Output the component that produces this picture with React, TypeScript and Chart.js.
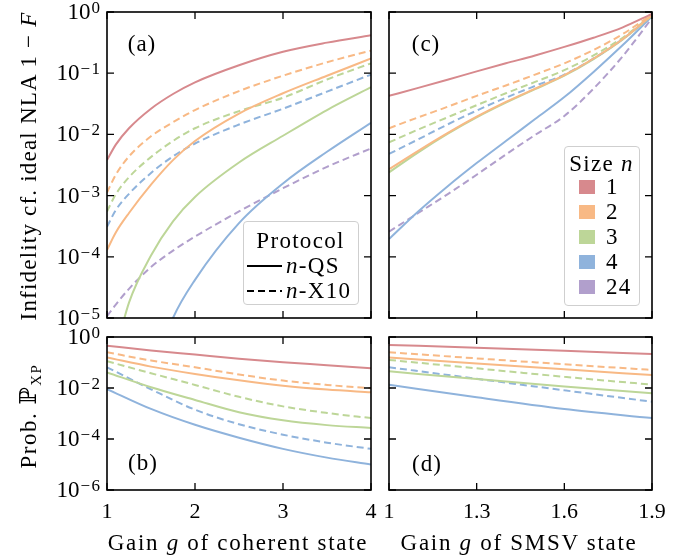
import React, { useEffect, useRef } from "react";
import { Chart, registerables } from "chart.js";

Chart.register(...registerables);

const W = 689;
const H = 556;
const SERIF = '"Liberation Serif", "DejaVu Serif", serif';

// ---------- x values (gain g) ----------
const coherentGain = [1, 1.1, 1.25, 1.5, 1.75, 2, 2.5, 3, 3.5, 4];
const smsvGain = [1, 1.1, 1.2, 1.3, 1.4, 1.5, 1.6, 1.7, 1.8, 1.9];
const coherentGainProb = [1, 1.5, 2, 2.5, 3, 3.5, 4];
const smsvGainProb = [1, 1.3, 1.6, 1.9];

// ---------- tick values / labels ----------
const coherentTicks = [1, 2, 3, 4];
const coherentTickLabels = ["1", "2", "3", "4"];
const smsvTicks = [1, 1.3, 1.6, 1.9];
const smsvTickLabels = ["1", "1.3", "1.6", "1.9"];
const infidelityTicks = [1e-5, 1e-4, 1e-3, 1e-2, 1e-1, 1];
const infidelityTickExponents = ["\u22125", "\u22124", "\u22123", "\u22122", "\u22121", "0"];
const probTicks = [1e-6, 1e-4, 1e-2, 1];
const probTickExponents = ["\u22126", "\u22124", "\u22122", "0"];

// ---------- (a) infidelity, coherent state ----------
const infCohQS_n1 = [3.8e-3, 6.8e-3, 1.26e-2, 2.63e-2, 4.57e-2, 7.1e-2, 0.135, 0.224, 0.316, 0.417];
const infCohQS_n2 = [1.29e-4, 2.5e-4, 5.2e-4, 1.51e-3, 3.8e-3, 7.8e-3, 2.19e-2, 4.7e-2, 9.1e-2, 0.174];
const infCohQS_n3 = [6.3e-7, 2.8e-6, 1.78e-5, 1.05e-4, 3.8e-4, 9.5e-4, 3.47e-3, 9.5e-3, 2.5e-2, 5.9e-2];
const infCohQS_n4 = [1e-9, 6.3e-9, 6.3e-8, 1e-6, 1e-5, 4.2e-5, 3.55e-4, 1.58e-3, 5.2e-3, 1.55e-2];
const infCohX10_n2 = [1.12e-3, 2.19e-3, 4.37e-3, 9.3e-3, 1.58e-2, 2.5e-2, 5.1e-2, 9.1e-2, 0.151, 0.234];
const infCohX10_n3 = [5.5e-4, 1.05e-3, 2.0e-3, 4.27e-3, 7.8e-3, 1.26e-2, 2.4e-2, 3.98e-2, 7.9e-2, 0.145];
const infCohX10_n4 = [3.1e-4, 5.8e-4, 1.07e-3, 2.34e-3, 4.37e-3, 7.1e-3, 1.45e-2, 2.63e-2, 5.0e-2, 9.5e-2];
const infCohX10_n24 = [1.07e-5, 1.66e-5, 3.0e-5, 6.8e-5, 1.26e-4, 2.14e-4, 5.5e-4, 1.32e-3, 2.95e-3, 5.9e-3];

// ---------- (c) infidelity, SMSV state ----------
const infSmsvQS_n1 = [4.27e-2, 5.75e-2, 7.8e-2, 0.107, 0.145, 0.195, 0.269, 0.38, 0.562, 0.933];
const infSmsvQS_n2 = [2.7e-3, 5.4e-3, 1.05e-2, 1.95e-2, 3.4e-2, 5.6e-2, 9.3e-2, 0.174, 0.363, 0.89];
const infSmsvQS_n3 = [2.4e-3, 5.1e-3, 1.02e-2, 1.9e-2, 3.3e-2, 5.5e-2, 9.1e-2, 0.17, 0.355, 0.87];
const infSmsvQS_n4 = [1.95e-4, 5.5e-4, 1.41e-3, 3.4e-3, 7.8e-3, 1.78e-2, 4.07e-2, 0.105, 0.288, 0.85];
const infSmsvX10_n2 = [1.26e-2, 1.9e-2, 2.82e-2, 4.27e-2, 6.3e-2, 9.5e-2, 0.145, 0.24, 0.437, 0.912];
const infSmsvX10_n3 = [7.4e-3, 1.2e-2, 1.9e-2, 3.0e-2, 4.7e-2, 7.2e-2, 0.112, 0.195, 0.38, 0.89];
const infSmsvX10_n4 = [4.8e-3, 8.3e-3, 1.45e-2, 2.45e-2, 3.98e-2, 6.2e-2, 9.5e-2, 0.174, 0.363, 0.87];
const infSmsvX10_n24 = [2.57e-4, 5.2e-4, 1.05e-3, 2.19e-3, 4.7e-3, 9.8e-3, 2.0e-2, 5.6e-2, 0.19, 0.794];

// ---------- (b) probability, coherent state ----------
const probCohQS_n1 = [0.457, 0.295, 0.204, 0.141, 0.102, 7.8e-2, 5.9e-2];
const probCohQS_n2 = [0.158, 6.9e-2, 3.55e-2, 2.0e-2, 1.23e-2, 8.7e-3, 6.8e-3];
const probCohQS_n3 = [4.1e-2, 1.07e-2, 3.4e-3, 1.12e-3, 5.4e-4, 3.5e-4, 2.7e-4];
const probCohQS_n4 = [9.1e-3, 1.51e-3, 3.6e-4, 1.12e-4, 4.1e-5, 1.86e-5, 1.0e-5];
const probCohX10_n2 = [0.251, 0.12, 6.5e-2, 3.4e-2, 1.95e-2, 1.32e-2, 9.8e-3];
const probCohX10_n3 = [0.112, 3.8e-2, 1.32e-2, 4.5e-3, 1.9e-3, 1.05e-3, 6.6e-4];
const probCohX10_n4 = [6.5e-2, 8.9e-3, 1.41e-3, 3.8e-4, 1.48e-4, 7.2e-5, 4.1e-5];

// ---------- (d) probability, SMSV state ----------
const probSmsvQS_n1 = [0.49, 0.38, 0.288, 0.214];
const probSmsvQS_n2 = [0.158, 9.1e-2, 5.4e-2, 3.2e-2];
const probSmsvQS_n3 = [4.5e-2, 2.24e-2, 1.15e-2, 6.2e-3];
const probSmsvQS_n4 = [1.35e-2, 4.3e-3, 1.5e-3, 6.6e-4];
const probSmsvX10_n2 = [0.251, 0.145, 8.5e-2, 5.1e-2];
const probSmsvX10_n3 = [0.126, 5.9e-2, 2.75e-2, 1.35e-2];
const probSmsvX10_n4 = [6.5e-2, 2.3e-2, 8.1e-3, 2.9e-3];

// ---------- legend ----------
const sizeLabels = ["1", "2", "3", "4", "24"];

// styles
const C1 = "#d7898d";
const C2 = "#f8b985";
const C3 = "#bdd698";
const C4 = "#8fb3dc";
const C24 = "#b19fcc";
const sizeColors = [C1, C2, C3, C4, C24];

type Series = { x: number[]; y: number[]; color: string; dashed: boolean };
type Area = { left: number; top: number; right: number; bottom: number };

const XAXIS_H = 40;

const framePlugin = {
  id: "frame",
  afterDatasetsDraw(chart: any, _args: any, opts: any) {
    const { ctx, chartArea } = chart;
    const { left, top, right, bottom } = chartArea;
    const xs = chart.scales.x;
    const ys = chart.scales.y;
    ctx.save();
    ctx.strokeStyle = "#000";
    ctx.lineWidth = 1.3;
    const L = 7;
    ctx.beginPath();
    for (const t of xs.ticks) {
      const px = xs.getPixelForValue(t.value);
      ctx.moveTo(px, bottom);
      ctx.lineTo(px, bottom - L);
      ctx.moveTo(px, top);
      ctx.lineTo(px, top + L);
    }
    for (const t of ys.ticks) {
      const py = ys.getPixelForValue(t.value);
      ctx.moveTo(left, py);
      ctx.lineTo(left + L, py);
      ctx.moveTo(right, py);
      ctx.lineTo(right - L, py);
    }
    ctx.stroke();
    ctx.lineWidth = 1.6;
    ctx.strokeRect(left, top, right - left, bottom - top);
    if (opts && opts.showYLabels) {
      ctx.fillStyle = "#000";
      ctx.textAlign = "right";
      ctx.textBaseline = "alphabetic";
      const vals: number[] = opts.ticks;
      const exps: string[] = opts.exps;
      vals.forEach((v, i) => {
        const py = ys.getPixelForValue(v);
        let xr = left - 7;
        const e = exps[i];
        ctx.font = `17px ${SERIF}`;
        const digits = e.replace("\u2212", "");
        ctx.fillText(digits, xr, py + 1);
        xr -= ctx.measureText(digits).width;
        if (e.startsWith("\u2212")) {
          xr -= 1.5;
          ctx.fillText("\u2212", xr, py + 1);
          xr -= ctx.measureText("\u2212").width;
        }
        ctx.font = `23px ${SERIF}`;
        ctx.fillText("10", xr - 1, py + 7);
      });
    }
    ctx.restore();
  },
};

function Panel(props: {
  area: Area;
  xMin: number;
  xMax: number;
  xTicks: number[];
  xLabels: string[];
  showXLabels: boolean;
  yMin: number;
  yMax: number;
  yTicks: number[];
  yExps: string[];
  showYLabels: boolean;
  series: Series[];
}) {
  const ref = useRef<HTMLCanvasElement>(null);
  useEffect(() => {
    const p = props;
    const xh = p.showXLabels ? XAXIS_H : 0;
    const chart = new Chart(ref.current as HTMLCanvasElement, {
      type: "line",
      data: {
        datasets: p.series.map((s) => ({
          data: s.x.map((x, i) => ({ x, y: s.y[i] })),
          borderColor: s.color,
          borderWidth: 2,
          borderDash: s.dashed ? [7, 4] : [],
          borderCapStyle: "butt",
          pointRadius: 0,
          cubicInterpolationMode: "monotone",
          fill: false,
        })),
      },
      options: {
        responsive: false,
        animation: false,
        events: [],
        layout: {
          padding: {
            left: p.area.left,
            top: p.area.top,
            right: W - p.area.right,
            bottom: H - p.area.bottom - xh,
          },
        },
        plugins: {
          legend: { display: false },
          tooltip: { enabled: false },
          frame: { showYLabels: p.showYLabels, ticks: p.yTicks, exps: p.yExps },
        } as any,
        scales: {
          x: {
            type: "linear",
            min: p.xMin,
            max: p.xMax,
            afterBuildTicks: (s: any) => {
              s.ticks = p.xTicks.map((v) => ({ value: v }));
            },
            afterFit: (s: any) => {
              s.height = xh;
            },
            grid: { display: false, drawTicks: false },
            border: { display: false },
            ticks: {
              display: p.showXLabels,
              autoSkip: false,
              maxRotation: 0,
              padding: 9,
              color: "#000",
              font: { family: SERIF, size: 22 },
              callback: (_v: any, i: number) => p.xLabels[i],
            },
          },
          y: {
            type: "logarithmic",
            min: p.yMin,
            max: p.yMax,
            afterBuildTicks: (s: any) => {
              s.ticks = p.yTicks.map((v) => ({ value: v }));
            },
            afterFit: (s: any) => {
              s.width = 0;
            },
            grid: { display: false, drawTicks: false },
            border: { display: false },
            ticks: { display: false },
          },
        },
      } as any,
      plugins: [framePlugin as any],
    });
    return () => chart.destroy();
  }, []);
  return (
    <canvas
      ref={ref}
      width={W}
      height={H}
      style={{ position: "absolute", left: 0, top: 0, width: W, height: H }}
    />
  );
}

const s = (x: number[], y: number[], color: string, dashed: boolean): Series => ({ x, y, color, dashed });

const seriesA: Series[] = [
  s(coherentGain, infCohQS_n1, C1, false),
  s(coherentGain, infCohX10_n2, C2, true),
  s(coherentGain, infCohQS_n2, C2, false),
  s(coherentGain, infCohX10_n3, C3, true),
  s(coherentGain, infCohQS_n3, C3, false),
  s(coherentGain, infCohX10_n4, C4, true),
  s(coherentGain, infCohQS_n4, C4, false),
  s(coherentGain, infCohX10_n24, C24, true),
];
const seriesC: Series[] = [
  s(smsvGain, infSmsvQS_n1, C1, false),
  s(smsvGain, infSmsvX10_n2, C2, true),
  s(smsvGain, infSmsvQS_n2, C2, false),
  s(smsvGain, infSmsvX10_n3, C3, true),
  s(smsvGain, infSmsvX10_n4, C4, true),
  s(smsvGain, infSmsvQS_n3, C3, false),
  s(smsvGain, infSmsvQS_n4, C4, false),
  s(smsvGain, infSmsvX10_n24, C24, true),
];
const seriesB: Series[] = [
  s(coherentGainProb, probCohQS_n1, C1, false),
  s(coherentGainProb, probCohX10_n2, C2, true),
  s(coherentGainProb, probCohQS_n2, C2, false),
  s(coherentGainProb, probCohX10_n3, C3, true),
  s(coherentGainProb, probCohQS_n3, C3, false),
  s(coherentGainProb, probCohX10_n4, C4, true),
  s(coherentGainProb, probCohQS_n4, C4, false),
];
const seriesD: Series[] = [
  s(smsvGainProb, probSmsvQS_n1, C1, false),
  s(smsvGainProb, probSmsvX10_n2, C2, true),
  s(smsvGainProb, probSmsvQS_n2, C2, false),
  s(smsvGainProb, probSmsvX10_n3, C3, true),
  s(smsvGainProb, probSmsvQS_n3, C3, false),
  s(smsvGainProb, probSmsvX10_n4, C4, true),
  s(smsvGainProb, probSmsvQS_n4, C4, false),
];

function Txt(props: { x: number; y: number; size?: number; rotate?: boolean; ls?: number; children: any }) {
  const { x, y, size = 23, rotate = false, ls = 0, children } = props;
  return (
    <div
      style={{
        position: "absolute",
        left: x,
        top: y,
        transform: `translate(-50%, -50%)${rotate ? " rotate(-90deg)" : ""}`,
        fontSize: size,
        lineHeight: 1,
        whiteSpace: "nowrap",
        letterSpacing: ls,
      }}
    >
      {children}
    </div>
  );
}

const legendText = { position: "absolute" as const, fontSize: 23, lineHeight: "24px", whiteSpace: "nowrap" as const, letterSpacing: 1.3 };

export default function App() {
  return (
    <div
      style={{
        position: "fixed",
        left: 0,
        top: 0,
        width: W,
        height: H,
        background: "#fff",
        overflow: "hidden",
        fontFamily: SERIF,
        color: "#000",
      }}
    >
      <Panel
        area={{ left: 107, top: 12, right: 371, bottom: 318 }}
        xMin={1} xMax={4} xTicks={coherentTicks} xLabels={coherentTickLabels} showXLabels={false}
        yMin={1e-5} yMax={1} yTicks={infidelityTicks} yExps={infidelityTickExponents} showYLabels={true}
        series={seriesA}
      />
      <Panel
        area={{ left: 389, top: 12, right: 652, bottom: 318 }}
        xMin={1} xMax={1.9} xTicks={smsvTicks} xLabels={smsvTickLabels} showXLabels={false}
        yMin={1e-5} yMax={1} yTicks={infidelityTicks} yExps={infidelityTickExponents} showYLabels={false}
        series={seriesC}
      />
      <Panel
        area={{ left: 107, top: 337, right: 371, bottom: 490 }}
        xMin={1} xMax={4} xTicks={coherentTicks} xLabels={coherentTickLabels} showXLabels={true}
        yMin={1e-6} yMax={1} yTicks={probTicks} yExps={probTickExponents} showYLabels={true}
        series={seriesB}
      />
      <Panel
        area={{ left: 389, top: 337, right: 652, bottom: 490 }}
        xMin={1} xMax={1.9} xTicks={smsvTicks} xLabels={smsvTickLabels} showXLabels={true}
        yMin={1e-6} yMax={1} yTicks={probTicks} yExps={probTickExponents} showYLabels={false}
        series={seriesD}
      />

      {/* panel labels */}
      <Txt x={142} y={43} ls={1}>(a)</Txt>
      <Txt x={143} y={462} ls={1}>(b)</Txt>
      <Txt x={426} y={43} ls={1}>(c)</Txt>
      <Txt x={427} y={463} ls={1}>(d)</Txt>

      {/* axis titles */}
      <Txt x={28} y={166} rotate ls={1.2}>
        Infidelity cf. ideal NLA 1 {"\u2212"} <i>F</i>
      </Txt>
      <Txt x={28} y={416} rotate ls={1.5}>
        Prob. {"\u2119"}
        <span style={{ fontSize: 15, position: "relative", top: 5 }}>XP</span>
      </Txt>
      <Txt x={238} y={542} ls={1.7}>
        Gain <i>g</i> of coherent state
      </Txt>
      <Txt x={519} y={542} ls={1.7}>
        Gain <i>g</i> of SMSV state
      </Txt>

      {/* Protocol legend */}
      <div
        style={{
          position: "absolute",
          left: 243,
          top: 221,
          width: 116,
          height: 84,
          boxSizing: "border-box",
          border: "1.5px solid #cfcfcf",
          borderRadius: 4,
          background: "rgba(255,255,255,0.8)",
        }}
      >
        <div style={{ ...legendText, left: 0, width: 113, top: 7, textAlign: "center" }}>Protocol</div>
        <svg width={40} height={60} style={{ position: "absolute", left: 3, top: 20 }}>
          <line x1={0} y1={24} x2={35} y2={24} stroke="#000" strokeWidth={2} />
          <line x1={0} y1={49} x2={35} y2={49} stroke="#000" strokeWidth={2} strokeDasharray="7 4" />
        </svg>
        <div style={{ ...legendText, left: 42, top: 32 }}>
          <i>n</i>-QS
        </div>
        <div style={{ ...legendText, left: 42, top: 57 }}>
          <i>n</i>-X10
        </div>
      </div>

      {/* Size legend */}
      <div
        style={{
          position: "absolute",
          left: 564,
          top: 146,
          width: 76,
          height: 160,
          boxSizing: "border-box",
          border: "1.5px solid #cfcfcf",
          borderRadius: 4,
          background: "rgba(255,255,255,0.8)",
        }}
      >
        <div style={{ ...legendText, left: 0, width: 73, top: 5, textAlign: "center" }}>
          Size <i>n</i>
        </div>
        {sizeLabels.map((lab, i) => (
          <React.Fragment key={lab}>
            <div
              style={{
                position: "absolute",
                left: 14,
                top: 33 + i * 25,
                width: 16,
                height: 14,
                background: sizeColors[i],
              }}
            />
            <div style={{ ...legendText, left: 41, top: 28 + i * 25 }}>{lab}</div>
          </React.Fragment>
        ))}
      </div>
    </div>
  );
}
